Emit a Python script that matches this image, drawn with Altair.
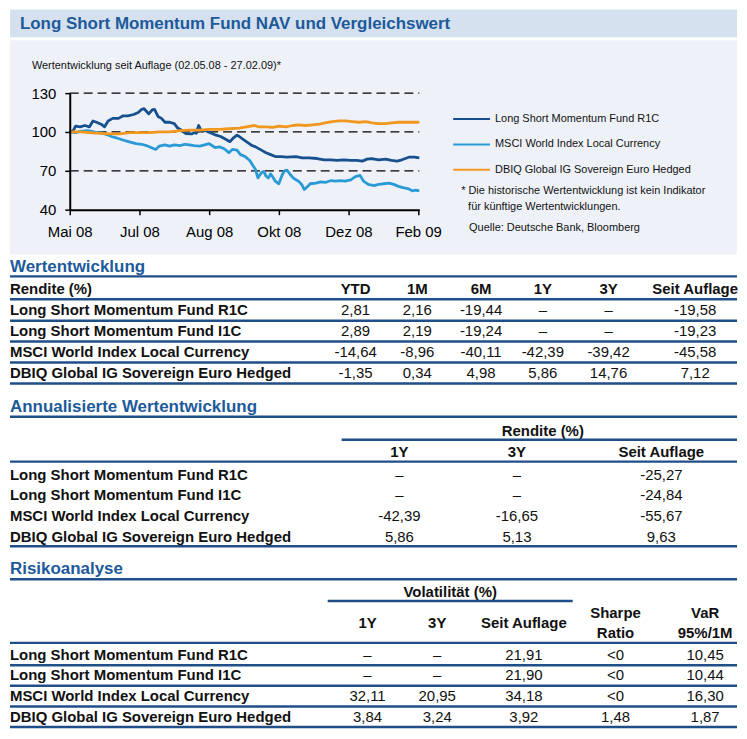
import json
import altair as alt
import pandas as pd

FONT = "Liberation Sans"

# ---------------------------------------------------------------- data
TITLE = "Long Short Momentum Fund NAV und Vergleichswert"
SUBTITLE = "Wertentwicklung seit Auflage (02.05.08  - 27.02.09)*"
NOTES = ["* Die historische Wertentwicklung ist kein Indikator",
         "für künftige Wertentwicklungen.",
         "Quelle: Deutsche Bank, Bloomberg"]

SERIES = ["Long Short Momentum  Fund R1C",
          "MSCI World Index Local Currency",
          "DBIQ Global IG Sovereign Euro Hedged"]
SERIES_COLORS = ["#17508F", "#2A9AD6", "#F2971E"]

START, END = "2008-05-02", "2009-02-27"
X_TICK_DATES = ["2008-05-02", "2008-07-01", "2008-08-30",
                "2008-10-29", "2008-12-28", "2009-02-26"]
X_TICK_LABELS = ["Mai 08", "Jul 08", "Aug 08", "Okt 08", "Dez 08", "Feb 09"]
Y_TICKS = [40, 70, 100, 130]
Y_GRID = [70, 100, 130]

# days since launch (02.05.08) and index values
R1C_DAYS = [0, 3, 5, 9, 13, 17, 20, 23, 27, 30, 33, 37, 42, 46, 50, 55, 59, 62, 64, 66,
            68, 71, 73, 76, 79, 82, 86, 90, 93, 96, 100, 105, 107, 109, 111, 113, 117, 122, 126, 130,
            135, 138, 141, 144, 146, 149, 153, 157, 160, 165, 169, 173, 177, 182, 187, 195, 200, 206, 213, 219,
            225, 230, 236, 242, 247, 252, 256, 260, 266, 272, 277, 282, 286, 292, 297, 301]
R1C_VALUES = [100, 101, 104.5, 104, 105, 104, 108.5, 107.5, 106, 104, 108.5, 110.5, 110.5, 112.5, 112.5, 113.5, 115, 117.5, 118, 116,
              114, 117, 117.5, 112, 110.5, 107.5, 107.5, 106.5, 103, 101.5, 98.7, 98.5, 99.5, 99, 105, 101.5, 101, 99, 97.5, 96.5,
              94, 92.5, 95.5, 97.5, 96.5, 94.5, 92, 89.5, 88.5, 86, 84, 82.5, 81, 81, 80.5, 81, 80, 80, 79.5, 78.5,
              78.5, 78, 78.5, 78, 78, 77.5, 79, 79.5, 78.5, 79, 78, 77.5, 78.5, 80.5, 80.5, 80]

MSCI_DAYS = [0, 5, 9, 15, 19, 23, 27, 32, 36, 40, 45, 49, 53, 57, 62, 66, 70, 74, 77, 82,
             86, 90, 95, 99, 103, 107, 112, 116, 120, 125, 129, 133, 137, 140, 144, 147, 151, 155, 157, 160,
             162, 165, 167, 169, 171, 173, 175, 177, 180, 183, 185, 187, 190, 193, 197, 200, 202, 205, 207, 212,
             216, 220, 225, 229, 233, 237, 242, 246, 250, 253, 257, 262, 266, 270, 275, 279, 283, 287, 292, 295,
             298, 301]
MSCI_VALUES = [100, 99.5, 100.5, 101, 100.5, 99.5, 99.5, 98, 96.5, 95.5, 94, 93, 92, 91, 90.5, 89.5, 88, 86.5, 89, 90,
               89, 90, 89.5, 90.5, 90, 89.5, 89, 90, 91, 88, 88.5, 87, 84, 86.5, 86, 82.5, 81, 78, 75, 71,
               64.5, 68.5, 69.5, 66, 64.5, 67.5, 65, 62, 60, 67, 70, 70.5, 67, 64, 62, 59, 55.5, 58, 60, 60.5,
               61.5, 61, 62.5, 62, 62.5, 62, 63, 65.5, 66.5, 62, 59.5, 58.5, 59.5, 60, 60.5, 59.5, 58, 57, 56, 54.5,
               55, 54.5]

DBIQ_DAYS = [0, 9, 17, 26, 35, 43, 52, 60, 69, 77, 86, 95, 103, 112, 120, 129, 137, 146, 152, 159,
             163, 169, 175, 180, 186, 192, 197, 203, 209, 215, 220, 226, 232, 238, 243, 249, 255, 260, 266, 272,
             277, 283, 289, 294, 301]
DBIQ_VALUES = [100, 100, 99.5, 99, 98.5, 98.5, 99.5, 99.5, 99.5, 100, 100, 101, 101.5, 101.5, 102, 102, 102.5, 103, 104, 105,
               104, 104, 103.5, 104.5, 104, 105, 105.5, 105, 105.5, 106, 107, 108, 108.5, 108.5, 108, 107.5, 108, 107, 106.5, 106.5,
               107, 107.5, 107.5, 107.5, 107.5]

ROWS = ["Long Short Momentum Fund R1C", "Long Short Momentum Fund I1C",
        "MSCI World Index Local Currency", "DBIQ Global IG Sovereign Euro Hedged"]

PERF_TITLE = "Wertentwicklung"
PERF_COLS = ["YTD", "1M", "6M", "1Y", "3Y", "Seit Auflage"]
PERF_YTD = [2.81, 2.89, -14.64, -1.35]
PERF_1M = [2.16, 2.19, -8.96, 0.34]
PERF_6M = [-19.44, -19.24, -40.11, 4.98]
PERF_1Y = [None, None, -42.39, 5.86]
PERF_3Y = [None, None, -39.42, 14.76]
PERF_SA = [-19.58, -19.23, -45.58, 7.12]

ANN_TITLE = "Annualisierte Wertentwicklung"
ANN_COLS = ["1Y", "3Y", "Seit Auflage"]
ANN_1Y = [None, None, -42.39, 5.86]
ANN_3Y = [None, None, -16.65, 5.13]
ANN_SA = [-25.27, -24.84, -55.67, 9.63]

RISK_TITLE = "Risikoanalyse"
RISK_COLS = ["1Y", "3Y", "Seit Auflage", "Sharpe", "VaR"]
VOL_1Y = [None, None, 32.11, 3.84]
VOL_3Y = [None, None, 20.95, 3.24]
VOL_SA = [21.91, 21.90, 34.18, 3.92]
SHARPE = ["<0", "<0", "<0", 1.48]
VAR_95 = [10.45, 10.44, 16.30, 1.87]

# ---------------------------------------------------------------- style / layout
W = 730
HEADER_BG = "#D5E1EE"
PANEL_BG = "#EEF2F8"
TITLE_BLUE = "#1D5A9B"
RULE_BLUE = "#1F4E88"
TXT = "#111111"


def fmt(v):
    if v is None:
        return "\u2013"
    if isinstance(v, str):
        return v
    return f"{v:.2f}".replace(".", ",")


def one(text=""):
    return pd.DataFrame({"t": [text]})


def label(text, x, y, size=15, bold=False, color=TXT, align="left"):
    return alt.Chart(one(text)).mark_text(
        font=FONT, fontSize=size, fontWeight="bold" if bold else "normal",
        color=color, align=align, baseline="middle"
    ).encode(x=alt.value(x), y=alt.value(y), text="t:N")


def hrule(x0, x1, y, color=RULE_BLUE, width=2.5):
    return alt.Chart(one()).mark_rule(color=color, strokeWidth=width).encode(
        x=alt.value(x0), x2=alt.value(x1), y=alt.value(y))


def box(x0, x1, y0, y1, color):
    return alt.Chart(one()).mark_rect(color=color).encode(
        x=alt.value(x0), x2=alt.value(x1), y=alt.value(y0), y2=alt.value(y1))


def dt(s):
    t = pd.Timestamp(s)
    return alt.DateTime(year=t.year, month=t.month, date=t.day, utc=True)


# ---------------------------------------------------------------- piece A: header + line chart
A_H = 247
PX0, PX1 = 60, 411
PY_TOP, PY_BOT = 84, 201


def series_df(name, days, vals):
    d = pd.Timestamp(START) + pd.to_timedelta(days, unit="D")
    return pd.DataFrame({"series": name, "date": d.strftime("%Y-%m-%d"), "value": vals})


line_df = pd.concat([
    series_df(SERIES[1], MSCI_DAYS, MSCI_VALUES),
    series_df(SERIES[0], R1C_DAYS, R1C_VALUES),
    series_df(SERIES[2], DBIQ_DAYS, DBIQ_VALUES),
], ignore_index=True)

grid_df = pd.DataFrame({"v": Y_GRID, "x0": START, "x1": END})

month_labels = [""] * 12
for d, lab in zip(X_TICK_DATES, X_TICK_LABELS):
    month_labels[pd.Timestamp(d).month - 1] = lab
x_label_expr = json.dumps(month_labels, ensure_ascii=False) + "[utcmonth(datum.value)]"

xscale = alt.Scale(type="utc", domain=[dt(START), dt(END)], range=[PX0, PX1])
yscale = alt.Scale(domain=[40, 130], range=[PY_BOT, PY_TOP], nice=False, zero=False)
color_scale = alt.Scale(domain=SERIES, range=SERIES_COLORS)

grid = alt.Chart(grid_df).mark_rule(color="black", strokeWidth=1.3, strokeDash=[9, 5]).encode(
    x=alt.X("x0:T", scale=xscale, axis=None),
    x2="x1:T",
    y=alt.Y("v:Q", scale=yscale, axis=None),
)

lines = alt.Chart(line_df).mark_line(strokeWidth=2.8, strokeJoin="round").encode(
    x=alt.X("date:T", scale=xscale, axis=alt.Axis(
        values=[dt(d) for d in X_TICK_DATES], labelExpr=x_label_expr, title=None,
        grid=False, domainColor="black", domainWidth=2, tickColor="black", tickWidth=1.5,
        tickSize=5, labelFont=FONT, labelFontSize=15, labelColor="black", labelPadding=10,
        labelOverlap=False, labelFlush=False, offset=PY_BOT - A_H, zindex=1)),
    y=alt.Y("value:Q", scale=yscale, axis=alt.Axis(
        values=Y_TICKS, title=None, grid=False, domainColor="black", domainWidth=2,
        tickColor="black", tickWidth=1.5, tickSize=5, labelFont=FONT, labelFontSize=15,
        labelColor="black", labelPadding=9, labelOverlap=False, offset=-PX0, zindex=1)),
    color=alt.Color("series:N", scale=color_scale, legend=None),
)

leg_df = pd.DataFrame({"series": SERIES})
leg_y = alt.Scale(type="point", domain=SERIES, range=[110, 161], padding=0)
leg_rules = alt.Chart(leg_df).mark_rule(strokeWidth=2).encode(
    x=alt.value(445), x2=alt.value(482),
    y=alt.Y("series:N", scale=leg_y, axis=None),
    color=alt.Color("series:N", scale=color_scale, legend=None),
)
leg_text = alt.Chart(leg_df).mark_text(font=FONT, fontSize=11, color=TXT, align="left", baseline="middle").encode(
    x=alt.value(487),
    y=alt.Y("series:N", scale=leg_y, axis=None),
    text="series:N",
)

piece_a = alt.layer(
    box(0, W, 0, 28, HEADER_BG),
    box(0, W, 31, 246, PANEL_BG),
    label(TITLE, 10, 15, size=17, bold=True, color=TITLE_BLUE),
    label(SUBTITLE, 22, 57, size=11),
    grid,
    lines,
    leg_rules,
    leg_text,
    label(NOTES[0], 453, 182, size=11),
    label(NOTES[1], 460, 198, size=11),
    label(NOTES[2], 461, 219, size=11),
).resolve_scale(x="independent", y="independent").properties(width=W, height=A_H)

# ---------------------------------------------------------------- tables
LX = alt.Scale(domain=[0, W], range=[0, W])


def cells(columns, col_x):
    recs = []
    for name, vals in columns:
        for r, v in zip(ROWS, vals):
            recs.append({"row": r, "cx": col_x[name], "txt": fmt(v)})
    return pd.DataFrame(recs)


def table_layers(rows_scale, cell_df, sep_offset=None):
    row_labels = alt.Chart(pd.DataFrame({"row": ROWS})).mark_text(
        font=FONT, fontSize=15, fontWeight="bold", color=TXT, align="left", baseline="middle"
    ).encode(x=alt.value(0), y=alt.Y("row:N", scale=rows_scale, axis=None), text="row:N")
    values = alt.Chart(cell_df).mark_text(
        font=FONT, fontSize=15, color=TXT, align="center", baseline="middle"
    ).encode(x=alt.X("cx:Q", scale=LX, axis=None),
             y=alt.Y("row:N", scale=rows_scale, axis=None), text="txt:N")
    out = [row_labels, values]
    if sep_offset is not None:
        seps = alt.Chart(pd.DataFrame({"row": ROWS})).mark_rule(
            color=RULE_BLUE, strokeWidth=2.5, yOffset=sep_offset
        ).encode(x=alt.value(0), x2=alt.value(W), y=alt.Y("row:N", scale=rows_scale, axis=None))
        out.append(seps)
    return out


def col_headers(names, col_x, y, texts=None):
    texts = texts or names
    df = pd.DataFrame({"lab": texts, "cx": [col_x[n] for n in names]})
    return alt.Chart(df).mark_text(
        font=FONT, fontSize=15, fontWeight="bold", color=TXT, align="center", baseline="middle"
    ).encode(x=alt.X("cx:Q", scale=LX, axis=None), y=alt.value(y), text="lab:N")


# Table 1: Wertentwicklung
B_H = 141
B_COLX = {"YTD": 347, "1M": 409, "6M": 473, "1Y": 535, "3Y": 601, "Seit Auflage": 688}
b_rows = alt.Scale(type="point", domain=ROWS, range=[55, 118], padding=0)
b_cells = cells([("YTD", PERF_YTD), ("1M", PERF_1M), ("6M", PERF_6M),
                 ("1Y", PERF_1Y), ("3Y", PERF_3Y), ("Seit Auflage", PERF_SA)], B_COLX)
piece_b = alt.layer(
    label(PERF_TITLE, 0, 12, size=17, bold=True, color=TITLE_BLUE),
    hrule(0, W, 21),
    label("Rendite (%)", 0, 34, bold=True),
    col_headers(PERF_COLS, B_COLX, 34),
    hrule(0, W, 44),
    *table_layers(b_rows, b_cells, sep_offset=10.5),
).properties(width=W, height=B_H)

# Table 2: Annualisierte Wertentwicklung
C_H = 164
C_COLX = {"1Y": 391, "3Y": 509, "Seit Auflage": 654}
c_rows = alt.Scale(type="point", domain=ROWS, range=[79, 142], padding=0)
c_cells = cells([("1Y", ANN_1Y), ("3Y", ANN_3Y), ("Seit Auflage", ANN_SA)], C_COLX)
piece_c = alt.layer(
    label(ANN_TITLE, 0, 11, size=17, bold=True, color=TITLE_BLUE),
    hrule(0, W, 21),
    label("Rendite (%)", 535, 35, bold=True, align="center"),
    hrule(333, W, 44),
    col_headers(ANN_COLS, C_COLX, 56),
    hrule(0, W, 66),
    *table_layers(c_rows, c_cells),
    hrule(0, W, 151),
).properties(width=W, height=C_H)

# Table 3: Risikoanalyse
D_H = 170
D_COLX = {"1Y": 359, "3Y": 429, "Seit Auflage": 516, "Sharpe": 608, "VaR": 698}
d_rows = alt.Scale(type="point", domain=ROWS, range=[96, 158], padding=0)
d_cells = cells([("1Y", VOL_1Y), ("3Y", VOL_3Y), ("Seit Auflage", VOL_SA),
                 ("Sharpe", SHARPE), ("VaR", VAR_95)], D_COLX)
piece_d = alt.layer(
    label(RISK_TITLE, 0, 10, size=17, bold=True, color=TITLE_BLUE),
    hrule(0, W, 20),
    label("Volatilität (%)", 442, 33, bold=True, align="center"),
    hrule(319, 565, 42),
    col_headers(["1Y", "3Y", "Seit Auflage"], D_COLX, 64),
    col_headers(["Sharpe", "VaR"], D_COLX, 54, texts=["Sharpe", "VaR"]),
    col_headers(["Sharpe", "VaR"], D_COLX, 74, texts=["Ratio", "95%/1M"]),
    hrule(0, W, 84),
    *table_layers(d_rows, d_cells, sep_offset=10.5),
).properties(width=W, height=D_H)

chart = alt.vconcat(piece_a, piece_b, piece_c, piece_d, spacing=0).properties(
    padding=0, background="white"
).configure_view(stroke=None)

chart.save("out.html", embed_options={"renderer": "svg", "actions": False})
